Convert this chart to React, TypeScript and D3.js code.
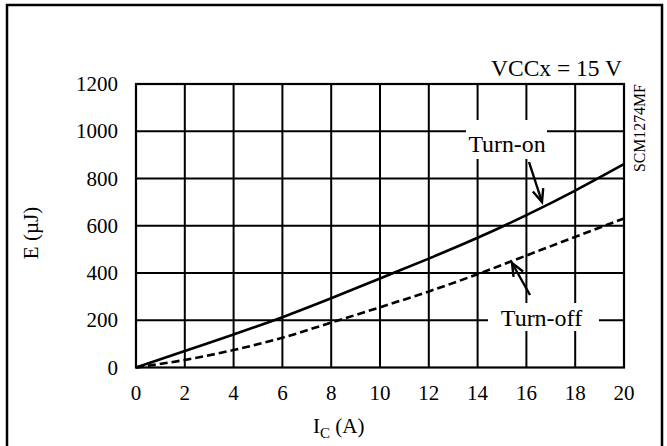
import React from "react";
import * as d3 from "d3";

const currents = [0, 2, 4, 6, 8, 10, 12, 14, 16, 18, 20];
const turnOn = [0, 70, 140, 213, 293, 377, 461, 549, 645, 749, 861];
const turnOff = [0, 32, 74, 126, 190, 255, 322, 395, 474, 553, 631];
const xTicks = [0, 2, 4, 6, 8, 10, 12, 14, 16, 18, 20];
const yTicks = [0, 200, 400, 600, 800, 1000, 1200];

const FONT = "'Liberation Serif', 'Times New Roman', serif";

export default function App() {
  const W = 667, H = 446;
  const x = d3.scaleLinear().domain([0, 20]).range([136, 624]);
  const y = d3.scaleLinear().domain([0, 1200]).range([367.5, 84]);
  const line = d3
    .line<number>()
    .x((_, i) => x(currents[i]))
    .y((d) => y(d))
    .curve(d3.curveMonotoneX);

  const arrowHead = (x1: number, y1: number, x2: number, y2: number) => {
    const a = Math.atan2(y2 - y1, x2 - x1);
    const L = 14, s = 0.4;
    const p1 = [x2 - L * Math.cos(a - s), y2 - L * Math.sin(a - s)];
    const p2 = [x2 - L * Math.cos(a + s), y2 - L * Math.sin(a + s)];
    return `M${p1[0]},${p1[1]}L${x2},${y2}L${p2[0]},${p2[1]}`;
  };

  return (
    <svg
      width={W}
      height={H}
      style={{ position: "absolute", left: 0, top: 0, background: "#fff" }}
      fontFamily={FONT}
    >
      <rect x={0} y={0} width={W} height={H} fill="#fff" />
      {/* outer frame */}
      <rect x={7} y={5} width={655} height={460} fill="none" stroke="#000" strokeWidth={2.5} />

      {/* grid */}
      {xTicks.slice(1, -1).map((t) => (
        <line key={"vx" + t} x1={x(t)} x2={x(t)} y1={y(0)} y2={y(1200)} stroke="#000" strokeWidth={2} />
      ))}
      {yTicks.slice(1, -1).map((t) => (
        <line key={"hy" + t} x1={x(0)} x2={x(20)} y1={y(t)} y2={y(t)} stroke="#000" strokeWidth={2} />
      ))}
      <rect x={x(0)} y={y(1200)} width={x(20) - x(0)} height={y(0) - y(1200)} fill="none" stroke="#000" strokeWidth={2.2} />

      {/* label backgrounds */}
      <rect x={466} y={120} width={81} height={39} fill="#fff" />
      <rect x={488} y={303} width={111} height={28} fill="#fff" />

      {/* tick labels */}
      {xTicks.map((t) => (
        <text key={"xt" + t} x={x(t)} y={400} fontSize={21} textAnchor="middle" fill="#000">
          {t}
        </text>
      ))}
      {yTicks.map((t) => (
        <text key={"yt" + t} x={118} y={y(t)} dy="0.34em" fontSize={21} textAnchor="end" fill="#000">
          {t}
        </text>
      ))}

      {/* axis titles */}
      <text x={313} y={433} fontSize={21} fill="#000">
        I<tspan fontSize={15} dy={5}>C</tspan>
        <tspan dy={-5}> (A)</tspan>
      </text>
      <text transform="translate(38,233) rotate(-90)" fontSize={21} textAnchor="middle" fill="#000">
        E (µJ)
      </text>

      {/* annotations */}
      <text x={622} y={76} fontSize={23.5} textAnchor="end" fill="#000">
        VCCx = 15 V
      </text>
      <text transform="translate(645,172) rotate(-90)" fontSize={15.8} fill="#000">
        SCM1274MF
      </text>
      <text x={507} y={152} fontSize={23.8} textAnchor="middle" fill="#000">
        Turn-on
      </text>
      <text x={541.5} y={326} fontSize={24} textAnchor="middle" fill="#000">
        Turn-off
      </text>

      {/* curves */}
      <path d={line(turnOn) || ""} fill="none" stroke="#000" strokeWidth={2.6} />
      <path d={line(turnOff) || ""} fill="none" stroke="#000" strokeWidth={2.6} strokeDasharray="8,4" />

      {/* arrows */}
      <line x1={529} y1={162} x2={542} y2={202} stroke="#000" strokeWidth={2.4} />
      <path d={arrowHead(529, 162, 542, 202)} fill="none" stroke="#000" strokeWidth={2.4} />
      <line x1={530} y1={295} x2={512} y2={263} stroke="#000" strokeWidth={2.4} />
      <path d={arrowHead(530, 295, 512, 263)} fill="none" stroke="#000" strokeWidth={2.4} />
    </svg>
  );
}
